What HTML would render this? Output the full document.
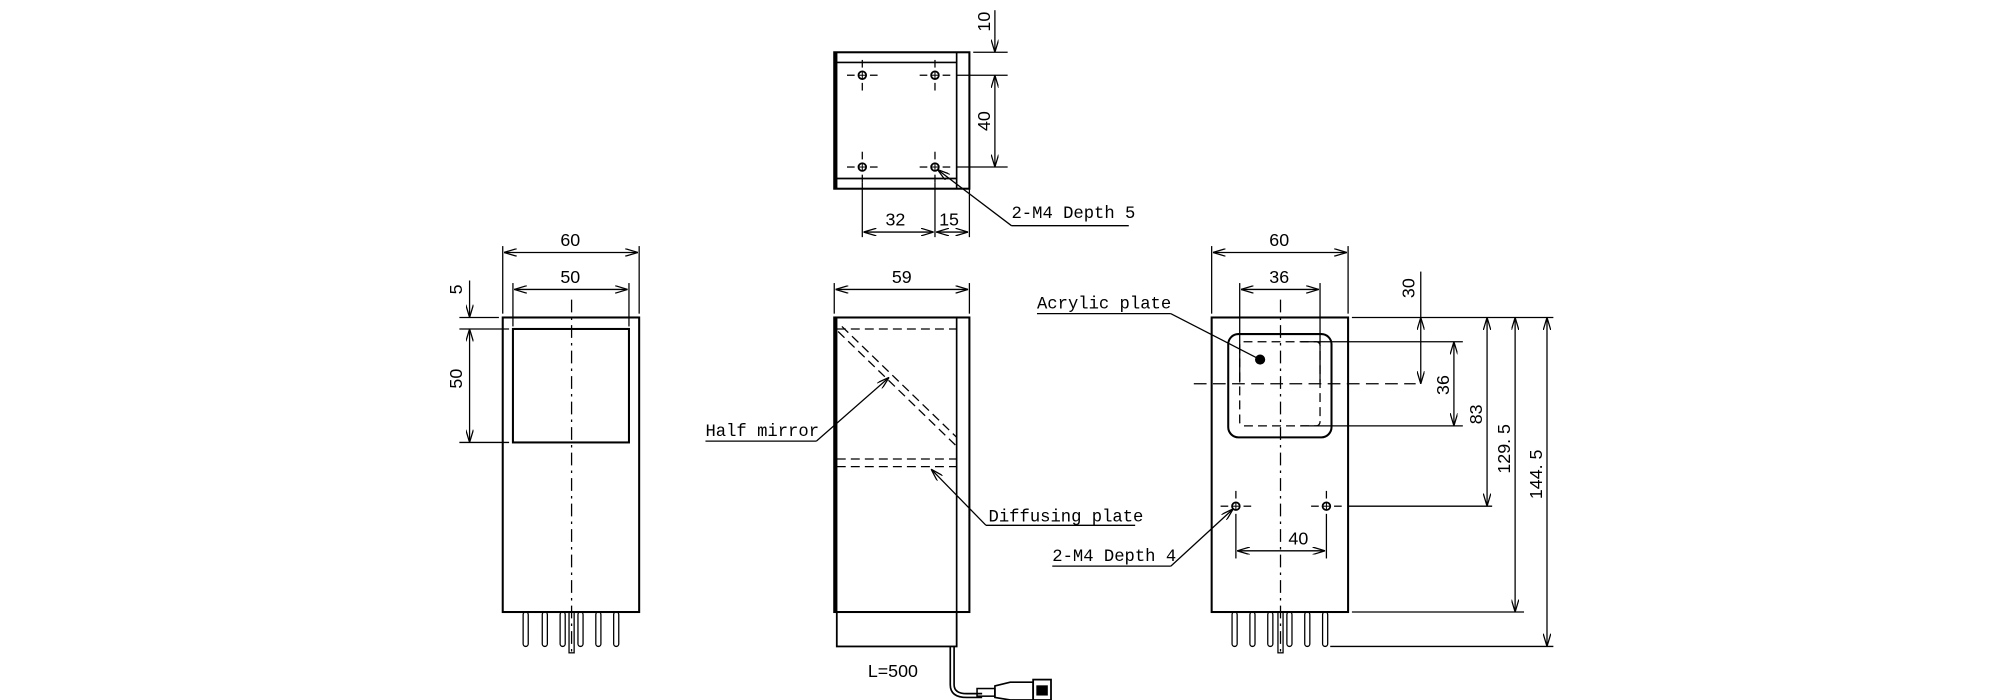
<!DOCTYPE html>
<html><head><meta charset="utf-8"><style>
html,body{margin:0;padding:0;background:#fff;}
svg{display:block;}
text{font-family:"Liberation Sans",sans-serif;font-size:14px;fill:#000;}
.m{font-family:"Liberation Mono",monospace;font-size:13.5px;}
</style></head><body>
<svg width="2000" height="700" viewBox="0 0 1568 549" xmlns="http://www.w3.org/2000/svg">
<defs>
<marker id="a" viewBox="0 0 10 6" refX="10" refY="3" markerWidth="10" markerHeight="6" markerUnits="userSpaceOnUse" orient="auto-start-reverse"><path d="M0,0 L10,3 L0,6" fill="none" stroke="#000" stroke-width="1"/></marker>
<g id="h"><circle r="3" fill="none" stroke="#000" stroke-width="1.4"/><line x1="-3" y1="0" x2="3" y2="0" stroke="#000" stroke-width="0.8"/><line x1="0" y1="-3" x2="0" y2="3" stroke="#000" stroke-width="0.8"/>
<g stroke="#000" stroke-width="1"><line x1="-12" y1="0" x2="-6" y2="0"/><line x1="6" y1="0" x2="12" y2="0"/><line x1="0" y1="-12" x2="0" y2="-6"/><line x1="0" y1="6" x2="0" y2="12"/></g></g>
<g id="p"><rect x="-2" y="0" width="4" height="27" rx="2" fill="none" stroke="#000"/></g>
</defs>
<g stroke="#000" fill="none" stroke-width="1">
<!-- LEFT VIEW -->
<rect x="394" y="249" width="107" height="231" stroke-width="1.6"/>
<rect x="402" y="258" width="91" height="89" stroke-width="1.6"/>
<line x1="448" y1="235" x2="448" y2="512" stroke-dasharray="10,4,2,4"/>
<line x1="394" y1="193" x2="394" y2="246"/><line x1="501" y1="193" x2="501" y2="246"/>
<line x1="402" y1="222" x2="402" y2="256"/><line x1="493" y1="222" x2="493" y2="256"/>
<line x1="395" y1="198" x2="500" y2="198" marker-start="url(#a)" marker-end="url(#a)"/>
<line x1="403" y1="227" x2="492" y2="227" marker-start="url(#a)" marker-end="url(#a)"/>
<line x1="360" y1="249" x2="391" y2="249"/><line x1="360" y1="258" x2="399" y2="258"/><line x1="360" y1="347" x2="399" y2="347"/>
<line x1="368" y1="220" x2="368" y2="249" marker-end="url(#a)"/>
<line x1="368" y1="258" x2="368" y2="347" marker-start="url(#a)" marker-end="url(#a)"/>
<use href="#p" x="412" y="480"/><use href="#p" x="427" y="480"/><use href="#p" x="441" y="480"/><use href="#p" x="455" y="480"/><use href="#p" x="469" y="480"/><use href="#p" x="483" y="480"/>
<rect x="446" y="480" width="4" height="32"/>
<!-- TOP MIDDLE VIEW -->
<rect x="654" y="41" width="106" height="107" stroke-width="1.6"/>
<line x1="655.5" y1="41" x2="655.5" y2="148" stroke-width="2"/>
<line x1="750" y1="41" x2="750" y2="148" stroke-width="1.3"/>
<line x1="656" y1="49" x2="750" y2="49" stroke-width="1.3"/>
<line x1="656" y1="140" x2="750" y2="140" stroke-width="1.3"/>
<use href="#h" x="676" y="59"/><use href="#h" x="733" y="59"/><use href="#h" x="676" y="131"/><use href="#h" x="733" y="131"/>
<line x1="676" y1="143" x2="676" y2="186"/><line x1="733" y1="143" x2="733" y2="186"/><line x1="760" y1="148" x2="760" y2="186"/>
<line x1="677" y1="182" x2="732" y2="182" marker-start="url(#a)" marker-end="url(#a)"/>
<line x1="734" y1="182" x2="759" y2="182" marker-start="url(#a)" marker-end="url(#a)"/>
<line x1="763" y1="41" x2="790" y2="41"/><line x1="750" y1="59" x2="790" y2="59"/><line x1="750" y1="131" x2="790" y2="131"/>
<line x1="780" y1="8" x2="780" y2="41" marker-end="url(#a)"/>
<line x1="780" y1="59" x2="780" y2="131" marker-start="url(#a)" marker-end="url(#a)"/>
<line x1="735" y1="133" x2="793" y2="177" marker-start="url(#a)"/><line x1="793" y1="177" x2="885" y2="177"/>
<!-- SIDE MIDDLE VIEW -->
<rect x="654" y="249" width="106" height="231" stroke-width="1.6"/>
<line x1="655.5" y1="249" x2="655.5" y2="480" stroke-width="2"/>
<line x1="750" y1="249" x2="750" y2="480" stroke-width="1.3"/>
<rect x="656" y="480" width="94" height="27" stroke-width="1.4"/>
<g stroke-dasharray="7,4">
<line x1="656" y1="258" x2="750" y2="258"/>
<line x1="657" y1="260" x2="749" y2="349"/><line x1="660" y1="256" x2="750" y2="343"/>
<line x1="656" y1="360" x2="750" y2="360"/><line x1="656" y1="366" x2="750" y2="366"/>
</g>
<line x1="654" y1="222" x2="654" y2="246"/><line x1="760" y1="222" x2="760" y2="246"/>
<line x1="655" y1="227" x2="759" y2="227" marker-start="url(#a)" marker-end="url(#a)"/>
<line x1="553" y1="346" x2="640" y2="346"/><line x1="640" y1="346" x2="697" y2="296" marker-end="url(#a)"/>
<line x1="890" y1="412" x2="773" y2="412"/><line x1="773" y1="412" x2="730" y2="368" marker-end="url(#a)"/>
<path d="M748,507 V537 Q748,544 758,544 H770" stroke-width="1.3"/>
<path d="M745,507 V537 Q745,547 758,547 H770" stroke-width="1.3"/>
<rect x="766" y="540" width="14" height="6" stroke-width="1.2"/>
<path d="M780,538 L792,535 H810 V549 H792 L780,547 Z" stroke-width="1.3"/>
<rect x="810" y="533" width="14" height="16" stroke-width="1.4"/>
<rect x="813" y="538" width="8" height="7" fill="#000"/>
<!-- RIGHT VIEW -->
<rect x="950" y="249" width="107" height="231" stroke-width="1.6"/>
<rect x="963" y="262" width="81" height="81" rx="8" stroke-width="1.6"/>
<rect x="972" y="268" width="63" height="66" rx="3" stroke-dasharray="7,4"/>
<line x1="1004" y1="235" x2="1004" y2="512" stroke-dasharray="10,4,2,4"/>
<line x1="936" y1="301" x2="1110" y2="301" stroke-dasharray="10,5"/>
<circle cx="988" cy="282" r="3.5" fill="#000"/>
<use href="#h" x="969" y="397"/><use href="#h" x="1040" y="397"/>
<line x1="969" y1="409" x2="969" y2="438"/><line x1="1040" y1="409" x2="1040" y2="438"/>
<line x1="970" y1="432" x2="1039" y2="432" marker-start="url(#a)" marker-end="url(#a)"/>
<line x1="950" y1="193" x2="950" y2="246"/><line x1="1057" y1="193" x2="1057" y2="246"/>
<line x1="972" y1="222" x2="972" y2="300"/><line x1="1035" y1="222" x2="1035" y2="300"/>
<line x1="951" y1="198" x2="1056" y2="198" marker-start="url(#a)" marker-end="url(#a)"/>
<line x1="973" y1="227" x2="1034" y2="227" marker-start="url(#a)" marker-end="url(#a)"/>
<line x1="1060" y1="249" x2="1218" y2="249"/>
<line x1="1020" y1="268" x2="1147" y2="268"/><line x1="1020" y1="334" x2="1147" y2="334"/>
<line x1="1057" y1="397" x2="1170" y2="397"/><line x1="1060" y1="480" x2="1195" y2="480"/><line x1="1043" y1="507" x2="1218" y2="507"/>
<line x1="1114" y1="213" x2="1114" y2="249"/>
<line x1="1114" y1="249" x2="1114" y2="301" marker-start="url(#a)" marker-end="url(#a)"/>
<line x1="1140" y1="268" x2="1140" y2="334" marker-start="url(#a)" marker-end="url(#a)"/>
<line x1="1166" y1="249" x2="1166" y2="397" marker-start="url(#a)" marker-end="url(#a)"/>
<line x1="1188" y1="249" x2="1188" y2="480" marker-start="url(#a)" marker-end="url(#a)"/>
<line x1="1213" y1="249" x2="1213" y2="507" marker-start="url(#a)" marker-end="url(#a)"/>
<line x1="813" y1="246" x2="918" y2="246"/><line x1="918" y1="246" x2="988" y2="282"/>
<line x1="825" y1="444" x2="918" y2="444"/><line x1="918" y1="444" x2="967" y2="399" marker-end="url(#a)"/>
<use href="#p" x="968" y="480"/><use href="#p" x="982" y="480"/><use href="#p" x="996" y="480"/><use href="#p" x="1011" y="480"/><use href="#p" x="1025" y="480"/><use href="#p" x="1039" y="480"/>
<rect x="1002" y="480" width="4" height="32"/>
</g>
<!-- TEXT -->
<text x="447" y="193" text-anchor="middle">60</text>
<text x="447" y="222" text-anchor="middle">50</text>
<text transform="translate(362,227) rotate(-90)" text-anchor="middle">5</text>
<text transform="translate(362,297) rotate(-90)" text-anchor="middle">50</text>
<text transform="translate(776,17) rotate(-90)" text-anchor="middle">10</text>
<text transform="translate(776,95) rotate(-90)" text-anchor="middle">40</text>
<text x="702" y="177" text-anchor="middle">32</text>
<text x="744" y="177" text-anchor="middle">15</text>
<text class="m" x="793" y="171">2-M4 Depth 5</text>
<text x="707" y="222" text-anchor="middle">59</text>
<text class="m" x="553" y="342">Half mirror</text>
<text class="m" x="775" y="409">Diffusing plate</text>
<text x="700" y="531" text-anchor="middle">L=500</text>
<text x="1003" y="193" text-anchor="middle">60</text>
<text x="1003" y="222" text-anchor="middle">36</text>
<text x="1018" y="427" text-anchor="middle">40</text>
<text class="m" x="813" y="242">Acrylic plate</text>
<text class="m" x="825" y="440">2-M4 Depth 4</text>
<text transform="translate(1109,226) rotate(-90)" text-anchor="middle">30</text>
<text transform="translate(1136,302) rotate(-90)" text-anchor="middle">36</text>
<text transform="translate(1162,325) rotate(-90)" text-anchor="middle">83</text>
<text transform="translate(1184,352) rotate(-90)" text-anchor="middle">129. 5</text>
<text transform="translate(1209,372) rotate(-90)" text-anchor="middle">144. 5</text>
</svg>
</body></html>
